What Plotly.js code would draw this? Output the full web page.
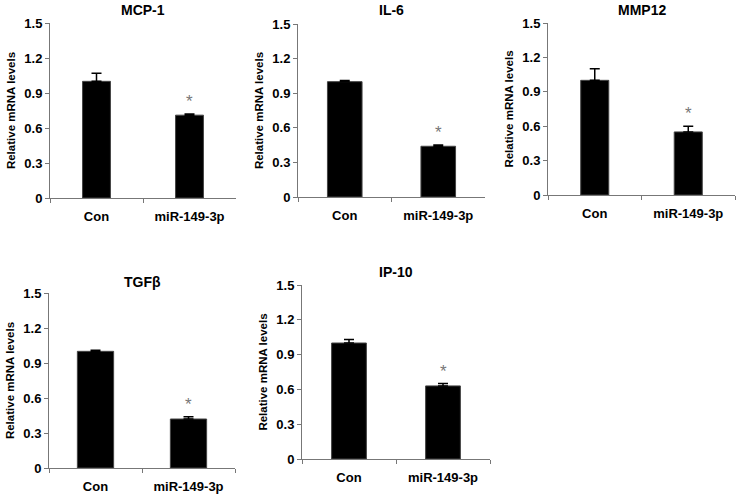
<!DOCTYPE html>
<html><head><meta charset="utf-8">
<script src="https://cdn.plot.ly/plotly-3.0.1.min.js"></script>
<style>html,body{margin:0;padding:0;background:#fff}#chart{width:736px;height:495px}</style>
</head><body><div id="chart"></div>
<script>
const categories = ["Con", "miR-149-3p"];
const panelTitles = ["MCP-1", "IL-6", "MMP12", "TGFβ", "IP-10"];
const mcp1 = [1.0, 0.71];
const mcp1Err = [0.07, 0.01];
const il6 = [1.0, 0.44];
const il6Err = [0.01, 0.01];
const mmp12 = [1.0, 0.55];
const mmp12Err = [0.10, 0.05];
const tgfb = [1.0, 0.42];
const tgfbErr = [0.01, 0.02];
const ip10 = [1.0, 0.63];
const ip10Err = [0.03, 0.02];
const yTicks = [0, 0.3, 0.6, 0.9, 1.2, 1.5];
const yTickText = ["0", "0.3", "0.6", "0.9", "1.2", "1.5"];
const yTitle = "Relative mRNA levels";
const sigMark = "*";

const values = [mcp1, il6, mmp12, tgfb, ip10];
const errs = [mcp1Err, il6Err, mmp12Err, tgfbErr, ip10Err];

const W = 736, H = 495;
// pixel boxes [x0, x1, yTop, yBottom]
const boxes = [
  [50, 236, 23, 198],
  [298, 485, 24, 197],
  [548, 735, 23, 195],
  [49, 235, 293, 468],
  [302, 490, 285, 459]
];
const barWidths = [0.30, 0.37, 0.30, 0.39, 0.37];
const titleY = [10, 10, 10, 282, 272];

const font = "Liberation Sans, Arial, sans-serif";
const traces = [];
const layout = {
  width: W, height: H,
  margin: {l: 0, r: 0, t: 0, b: 0},
  paper_bgcolor: "#fff", plot_bgcolor: "#fff",
  showlegend: false,
  font: {family: font, color: "#000"},
  annotations: []
};

boxes.forEach((b, i) => {
  const n = i + 1;
  const xa = n === 1 ? "x" : "x" + n;
  const ya = n === 1 ? "y" : "y" + n;
  const xk = n === 1 ? "xaxis" : "xaxis" + n;
  const yk = n === 1 ? "yaxis" : "yaxis" + n;
  traces.push({
    type: "bar", x: categories, y: values[i], xaxis: xa, yaxis: ya,
    width: barWidths[i],
    marker: {color: "#000", line: {color: "#444", width: 1}},
    error_y: {type: "data", array: errs[i], arrayminus: [0, 0], symmetric: false,
              color: "#000", thickness: 1.5, width: 5},
    hoverinfo: "skip"
  });
  layout[xk] = {
    domain: [b[0] / W, b[1] / W], anchor: ya,
    type: "category", range: [-0.5, 1.5],
    tickson: "boundaries", ticks: "outside", ticklen: 4, tickcolor: "#777",
    ticklabelstandoff: 6,
    showline: true, linecolor: "#777", linewidth: 1,
    showgrid: false, zeroline: false,
    tickfont: {size: 13, family: font, weight: "bold", color: "#000"},
    fixedrange: true
  };
  layout[yk] = {
    domain: [1 - b[3] / H, 1 - b[2] / H], anchor: xa,
    range: [0, 1.5], tickvals: yTicks, ticktext: yTickText,
    ticks: "outside", ticklen: 4, tickcolor: "#777",
    showline: true, linecolor: "#777", linewidth: 1,
    showgrid: false, zeroline: false,
    tickfont: {size: 13, family: font, weight: "bold", color: "#000"},
    title: {text: yTitle, font: {size: 11.5, family: font, weight: "bold", color: "#000"}, standoff: 6},
    fixedrange: true
  };
  layout.annotations.push({
    xref: "paper", yref: "paper",
    x: (b[0] + b[1]) / 2 / W, y: 1 - titleY[i] / H,
    text: "<b>" + panelTitles[i] + "</b>", showarrow: false,
    font: {size: 14, family: font, color: "#000"}, xanchor: "center", yanchor: "middle"
  });
  layout.annotations.push({
    xref: xa, yref: ya, x: categories[1], y: values[i][1] + errs[i][1],
    text: sigMark, showarrow: false, yanchor: "bottom", yshift: 1,
    font: {size: 17, family: font, color: "#777"}
  });
});

Plotly.newPlot("chart", traces, layout, {displayModeBar: false, staticPlot: true});
</script></body></html>
